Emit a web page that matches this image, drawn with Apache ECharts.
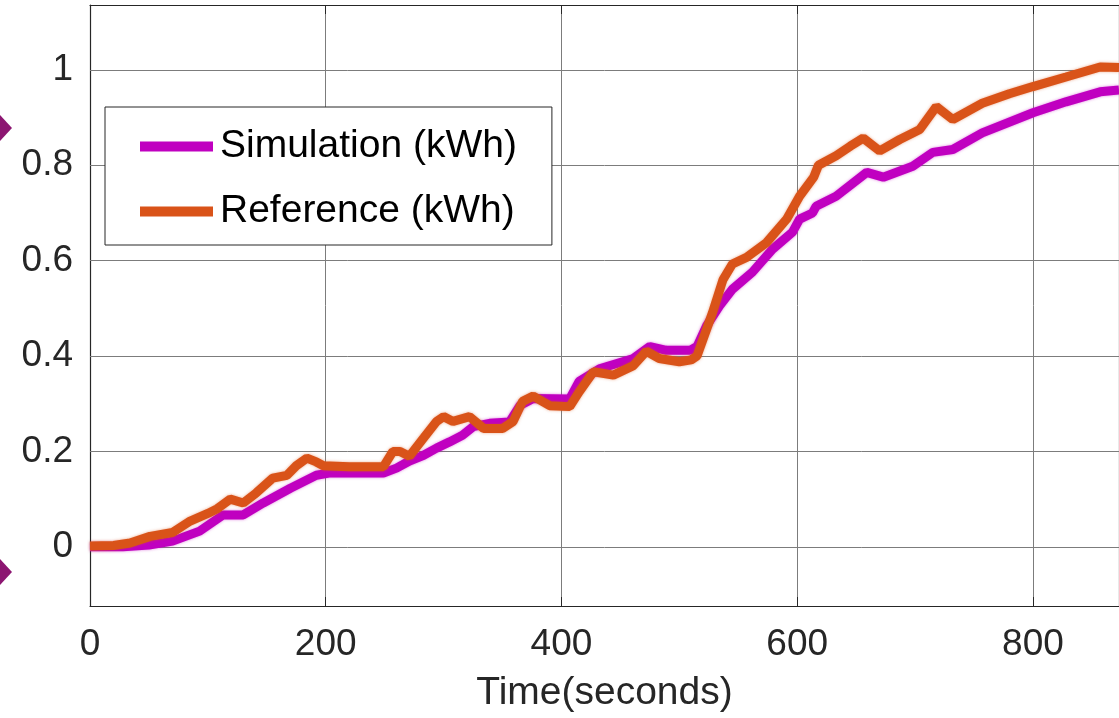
<!DOCTYPE html>
<html><head><meta charset="utf-8">
<script src="https://cdn.jsdelivr.net/npm/echarts@6/dist/echarts.min.js"></script>
<style>html,body{margin:0;padding:0;background:#fff}#c{width:1119px;height:718px}</style>
</head><body><div id="c"></div>
<script>
const seriesNames = ['Simulation (kWh)', 'Reference (kWh)'];
const xTitle = 'Time(seconds)';
const xTicks = [0, 200, 400, 600, 800];
const yTicks = [0, 0.2, 0.4, 0.6, 0.8, 1];

const simTime = [0, 28, 50, 70, 93, 113, 130, 147, 170, 192, 204, 249, 260, 271, 283, 294, 305, 316, 325, 339, 356, 365, 376, 407, 415, 433, 461, 475, 489, 509, 515, 523, 534, 545, 562, 579, 596, 602, 613, 616, 633, 659, 673, 698, 715, 732, 757, 800, 828, 857, 873];
const simKWh = [0, 0, 0.004, 0.012, 0.033, 0.067, 0.067, 0.092, 0.123, 0.15, 0.155, 0.155, 0.165, 0.18, 0.192, 0.207, 0.22, 0.234, 0.252, 0.259, 0.262, 0.297, 0.311, 0.31, 0.347, 0.374, 0.395, 0.42, 0.412, 0.412, 0.42, 0.463, 0.505, 0.54, 0.576, 0.624, 0.66, 0.687, 0.70, 0.714, 0.735, 0.785, 0.775, 0.798, 0.827, 0.833, 0.868, 0.91, 0.933, 0.954, 0.958];

const refTime = [0, 20, 34, 51, 70, 85, 100, 108, 119, 130, 141, 155, 167, 175, 184, 192, 198, 220, 249, 257, 263, 271, 283, 294, 300, 308, 322, 334, 350, 359, 367, 376, 390, 407, 415, 427, 444, 461, 472, 483, 500, 510, 515, 528, 537, 545, 557, 574, 591, 602, 614, 618, 633, 645, 656, 670, 687, 704, 718, 732, 757, 780, 800, 828, 857, 873];
const refKWh = [0.002, 0.003, 0.008, 0.022, 0.03, 0.054, 0.07, 0.08, 0.10, 0.092, 0.113, 0.144, 0.15, 0.17, 0.186, 0.178, 0.17, 0.168, 0.168, 0.20, 0.20, 0.19, 0.228, 0.263, 0.273, 0.263, 0.273, 0.248, 0.248, 0.263, 0.305, 0.316, 0.296, 0.294, 0.325, 0.367, 0.36, 0.38, 0.41, 0.395, 0.388, 0.392, 0.40, 0.49, 0.56, 0.593, 0.607, 0.638, 0.687, 0.735, 0.775, 0.80, 0.82, 0.84, 0.857, 0.83, 0.854, 0.875, 0.923, 0.896, 0.93, 0.95, 0.965, 0.985, 1.006, 1.005];

const simColor = '#C000C0';
const refColor = '#D95319';
const txt = '#262626';
const font = 'Liberation Sans, Arial, Helvetica, sans-serif';

const pairs = (xs, ys) => xs.map((x, i) => [x, ys[i]]);

const chart = echarts.init(document.getElementById('c'), null, {renderer: 'canvas'});
const fmtY = v => String(+(+v).toFixed(1));

chart.setOption({
  animation: false,
  backgroundColor: '#fff',
  textStyle: {fontFamily: font},
  grid: {left: 90, top: 5, right: 0, bottom: 110, containLabel: false},
  legend: {
    data: seriesNames,
    orient: 'vertical',
    left: 105, top: 107,
    padding: [20, 35, 14, 35],
    itemGap: 26,
    itemWidth: 73, itemHeight: 10,
    icon: 'rect',
    backgroundColor: '#fff',
    borderColor: txt, borderWidth: 1,
    textStyle: {fontSize: 39, lineHeight: 39, color: '#000', fontFamily: font, padding: [0, 0, 0, 2]}
  },
  xAxis: [{
    type: 'value', min: 0, max: 873, interval: 200, position: 'bottom',
    axisLine: {show: true, onZero: false, lineStyle: {color: txt, width: 1.2}},
    axisTick: {show: true, inside: true, length: 9, lineStyle: {color: txt}},
    axisLabel: {fontSize: 37, color: txt, margin: 20, showMaxLabel: false, fontFamily: font},
    splitLine: {show: true, lineStyle: {color: '#7c7c7c', width: 1}},
    name: xTitle, nameLocation: 'middle', nameGap: 68,
    nameTextStyle: {fontSize: 39, color: txt, fontFamily: font}
  }, {
    type: 'value', min: 0, max: 873, interval: 200, position: 'top',
    axisLine: {show: true, onZero: false, lineStyle: {color: txt, width: 1.2}},
    axisTick: {show: true, inside: true, length: 9, lineStyle: {color: txt}},
    axisLabel: {show: false}, splitLine: {show: false}
  }],
  yAxis: [{
    type: 'value', min: -0.124, max: 1.136, position: 'left',
    axisLine: {show: true, onZero: false, lineStyle: {color: txt, width: 1.2}},
    axisTick: {show: true, inside: true, length: 9, customValues: yTicks, lineStyle: {color: txt}},
    axisLabel: {customValues: yTicks, fontSize: 37, color: txt, margin: 17, formatter: fmtY, fontFamily: font},
    splitLine: {show: false}
  }, {
    type: 'value', min: -0.124, max: 1.136, position: 'right',
    axisLine: {show: true, onZero: false, lineStyle: {color: txt, width: 1.2}},
    axisTick: {show: true, inside: true, length: 9, customValues: yTicks, lineStyle: {color: txt}},
    axisLabel: {show: false}, splitLine: {show: false}
  }],
  series: [{
    name: seriesNames[0], type: 'line', xAxisIndex: 0, yAxisIndex: 0,
    data: pairs(simTime, simKWh), showSymbol: false, symbol: 'none', z: 3,
    color: simColor,
    lineStyle: {color: simColor, width: 9, shadowColor: 'rgba(192,0,192,0.5)', shadowBlur: 3},
    itemStyle: {color: simColor},
    markLine: {
      silent: true, symbol: 'none', z: 1, animation: false,
      label: {show: false},
      lineStyle: {color: '#7c7c7c', width: 1, type: 'solid'},
      emphasis: {disabled: true},
      data: yTicks.map(v => ({yAxis: v}))
    }
  }, {
    name: seriesNames[1], type: 'line', xAxisIndex: 0, yAxisIndex: 0,
    data: pairs(refTime, refKWh), showSymbol: false, symbol: 'none', z: 4,
    color: refColor,
    lineStyle: {color: refColor, width: 9, shadowColor: 'rgba(217,83,25,0.5)', shadowBlur: 3},
    itemStyle: {color: refColor}
  }],
  graphic: [
    {type: 'polygon', shape: {points: [[0, 115], [12, 128], [0, 141]]}, style: {fill: '#8C1671'}, z: 10},
    {type: 'polygon', shape: {points: [[0, 559], [12, 572], [0, 585]]}, style: {fill: '#8C1671'}, z: 10}
  ]
});
</script>
</body></html>
